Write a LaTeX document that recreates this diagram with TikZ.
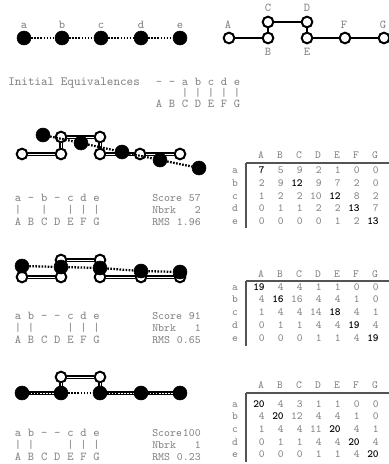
\documentclass[tikz,border=0pt]{standalone}
\definecolor{txt}{gray}{0.52}
\definecolor{rulec}{gray}{0.33}
\newcommand\mrow[5]{%
  \node[mat,anchor=base] (#1l) at (235,#2) {#5};
  \foreach \v [count=\ci] in {#4} {%
    \ifnum\ci=#3\relax
      \node[matb,anchor=base east] (#1\ci) at ({246+19*\ci},#2) {\v};
    \else
      \node[mat,anchor=base east] (#1\ci) at ({246+19*\ci},#2) {\v};
    \fi
  }}
\newcommand\mhead[3]{% prefix, baseline, line y
  \foreach \L [count=\ci] in {A,B,C,D,E,F,G}
    \node[mat,anchor=base] (#1\L) at ({242+19*\ci},#2) {\L};
  \coordinate (#1h0) at (246,#3);
  \coordinate (#1h1) at (392,#3);
  \draw[rulec,line width=1.5pt] (#1h0) -- (#1h1);}
\begin{document}
\begin{tikzpicture}[x=0.75pt,y=-0.75pt,
  fil/.style={circle,fill=black,draw=black,line width=0.4pt,inner sep=0pt,minimum size=10.5pt},
  opn/.style={circle,draw=black,fill=white,line width=1.5pt,inner sep=0pt,minimum size=8pt},
  dotline/.style={line width=1.7pt,dash pattern=on 1.2pt off 1.1pt},
  thickline/.style={line width=1.8pt},
  dbl/.style={double=white,line width=0.85pt,double distance=0.75pt},
  lab/.style={font=\fontsize{9}{11}\selectfont\ttfamily,text=txt,inner sep=0pt},
  scl/.style={font=\fontsize{8.5}{11}\selectfont\ttfamily,text=txt,inner sep=0pt},
  mat/.style={font=\fontsize{8.2}{10}\selectfont\ttfamily,text=txt,inner sep=0pt},
  matb/.style={font=\fontsize{8.2}{10}\selectfont\ttfamily\bfseries,text=black,inner sep=0pt}]
\useasboundingbox (0,0) rectangle (389,464);

% ---------- top left: filled chain
\foreach \n/\x in {a/24,b/62,c/101,d/141,e/180}{
  \node[fil] (t\n) at (\x,38) {};
  \node[lab,anchor=base] (tl\n) at (\x,28) {\n};
}
\draw[dotline] (ta) -- (tb) -- (tc) -- (td) -- (te);

% ---------- top right: open chain
\node[opn] (TA) at (229,38) {};
\node[opn] (TB) at (268,38) {};
\node[opn] (TC) at (268,22) {};
\node[opn] (TD) at (307,22) {};
\node[opn] (TE) at (307,38) {};
\node[opn] (TF) at (345,38) {};
\node[opn] (TG) at (384,38) {};
\draw[thickline] (TA) -- (TB) -- (TC) -- (TD) -- (TE) -- (TF) -- (TG);
\node[lab,anchor=base] (TLA) at (228,28) {A};
\node[lab,anchor=base] (TLB) at (268,55) {B};
\node[lab,anchor=base] (TLC) at (268,12) {C};
\node[lab,anchor=base] (TLD) at (307,12) {D};
\node[lab,anchor=base] (TLE) at (307,55) {E};
\node[lab,anchor=base] (TLF) at (344,28) {F};
\node[lab,anchor=base] (TLG) at (383,28) {G};

% ---------- initial equivalences
\node[lab,anchor=base west,font=\fontsize{9.4}{11}\selectfont\ttfamily] (init) at (8,85) {Initial Equivalences};
\foreach \c [count=\i from 0] in {-,-,a,b,c,d,e}
  \node[lab,anchor=base] (i1\i) at ({159+13*\i},85) {\c};
\foreach \i in {2,3,4,5,6}
  \node[lab,anchor=base] (i2\i) at ({159+13*\i},96) {|};
\foreach \c [count=\i from 0] in {A,B,C,D,E,F,G}
  \node[lab,anchor=base] (i3\i) at ({159+13*\i},107) {\c};

% ---------- panel 1
\node[opn] (pA) at (22,154) {};
\node[opn] (pB) at (61,154) {};
\node[opn] (pC) at (61,137) {};
\node[opn] (pD) at (100,137) {};
\node[opn] (pE) at (100,154) {};
\node[opn] (pF) at (140,154) {};
\node[opn] (pG) at (180,154) {};
\draw[dbl] (pA) -- (pB) -- (pC) -- (pD) -- (pE) -- (pF) -- (pG);
\node[fil] (pa) at (43,135) {};
\node[fil] (pb) at (81,143) {};
\node[fil] (pc) at (122,152) {};
\node[fil] (pd) at (160,160) {};
\node[fil] (pe) at (199,168) {};
\draw[dotline] (pa) -- (pb) -- (pc) -- (pd) -- (pe);
\foreach \c [count=\i from 0] in {a,-,b,-,c,d,e}
  \node[lab,anchor=base] (q1t\i) at ({18+13.1*\i},201) {\c};
\foreach \i in {0,2,4,5,6}
  \node[lab,anchor=base] (q1m\i) at ({18+13.1*\i},213) {|};
\foreach \c [count=\i from 0] in {A,B,C,D,E,F,G}
  \node[lab,anchor=base] (q1b\i) at ({18+13.1*\i},225) {\c};
\node[scl,anchor=base west] (s1a) at (152,201) {Score};
\node[scl,anchor=base west] (s1b) at (152,213) {Nbrk};
\node[scl,anchor=base west] (s1c) at (152,225) {RMS};
\node[scl,anchor=base east] (v1a) at (201,201) {57};
\node[scl,anchor=base east] (v1b) at (201,213) {2};
\node[scl,anchor=base east] (v1c) at (201,225) {1.96};
\mhead{ma}{158.5}{163}
\coordinate (mav0) at (246,163);
\coordinate (mav1) at (246,228);
\draw[rulec,line width=1pt] (mav0) -- (mav1);
\mrow{maa}{173.5}{1}{7,5,9,2,1,0,0}{a}
\mrow{mab}{186.5}{3}{2,9,12,9,7,2,0}{b}
\mrow{mac}{199.5}{5}{1,2,2,10,12,8,2}{c}
\mrow{mad}{211.5}{6}{0,1,1,2,2,13,7}{d}
\mrow{mae}{224.5}{7}{0,0,0,0,1,2,13}{e}

% ---------- panel 2
\node[opn] (rA) at (22,277) {};
\node[opn] (rB) at (61,277) {};
\node[opn] (rC) at (61,260) {};
\node[opn] (rD) at (100,260) {};
\node[opn] (rE) at (100,277) {};
\node[opn] (rF) at (141,277) {};
\node[opn] (rG) at (180,277) {};
\draw[dbl] (rA) -- (rB) -- (rC) -- (rD) -- (rE) -- (rF) -- (rG);
\node[fil] (ra) at (22,266) {};
\node[fil] (rb) at (61,267) {};
\node[fil] (rc) at (100,268) {};
\node[fil] (rd) at (141,271) {};
\node[fil] (re) at (180,272) {};
\draw[dotline] (ra) -- (rb) -- (rc) -- (rd) -- (re);
\foreach \c [count=\i from 0] in {a,b,-,-,c,d,e}
  \node[lab,anchor=base] (q2t\i) at ({18+13.1*\i},319) {\c};
\foreach \i in {0,1,4,5,6}
  \node[lab,anchor=base] (q2m\i) at ({18+13.1*\i},331) {|};
\foreach \c [count=\i from 0] in {A,B,C,D,E,F,G}
  \node[lab,anchor=base] (q2b\i) at ({18+13.1*\i},343) {\c};
\node[scl,anchor=base west] (s2a) at (152,319) {Score};
\node[scl,anchor=base west] (s2b) at (152,331) {Nbrk};
\node[scl,anchor=base west] (s2c) at (152,343) {RMS};
\node[scl,anchor=base east] (v2a) at (201,319) {91};
\node[scl,anchor=base east] (v2b) at (201,331) {1};
\node[scl,anchor=base east] (v2c) at (201,343) {0.65};
\mhead{mb}{277.5}{281}
\coordinate (mbv0) at (246,281);
\coordinate (mbv1) at (246,346);
\draw[rulec,line width=1pt] (mbv0) -- (mbv1);
\mrow{mba}{290.5}{1}{19,4,4,1,1,0,0}{a}
\mrow{mbb}{302.5}{2}{4,16,16,4,4,1,0}{b}
\mrow{mbc}{315.5}{5}{1,4,4,14,18,4,1}{c}
\mrow{mbd}{328.5}{6}{0,1,1,4,4,19,4}{d}
\mrow{mbe}{341.5}{7}{0,0,0,1,1,4,19}{e}

% ---------- panel 3
\node[opn] (uA) at (22,393) {};
\node[opn] (uB) at (61,393) {};
\node[opn] (uC) at (61,377) {};
\node[opn] (uD) at (100,377) {};
\node[opn] (uE) at (100,393) {};
\node[opn] (uF) at (141,393) {};
\node[opn] (uG) at (180,393) {};
\draw[dbl] (uA) -- (uB) -- (uC) -- (uD) -- (uE) -- (uF) -- (uG);
\node[fil] (ua) at (22,393) {};
\node[fil] (ub) at (61,393) {};
\node[fil] (uc) at (100,393) {};
\node[fil] (ud) at (141,393) {};
\node[fil] (ue) at (180,393) {};
\draw[dotline] (ua) -- (ub) -- (uc) -- (ud) -- (ue);
\foreach \c [count=\i from 0] in {a,b,-,-,c,d,e}
  \node[lab,anchor=base] (q3t\i) at ({18+13.1*\i},436) {\c};
\foreach \i in {0,1,4,5,6}
  \node[lab,anchor=base] (q3m\i) at ({18+13.1*\i},448) {|};
\foreach \c [count=\i from 0] in {A,B,C,D,E,F,G}
  \node[lab,anchor=base] (q3b\i) at ({18+13.1*\i},460) {\c};
\node[scl,anchor=base west] (s3a) at (152,436) {Score};
\node[scl,anchor=base west] (s3b) at (152,448) {Nbrk};
\node[scl,anchor=base west] (s3c) at (152,460) {RMS};
\node[scl,anchor=base east] (v3a) at (201,436) {100};
\node[scl,anchor=base east] (v3b) at (201,448) {1};
\node[scl,anchor=base east] (v3c) at (201,460) {0.23};
\mhead{mc}{388.5}{393}
\coordinate (mcv0) at (246,393);
\coordinate (mcv1) at (246,462);
\draw[rulec,line width=1pt] (mcv0) -- (mcv1);
\mrow{mca}{407.5}{1}{20,4,3,1,1,0,0}{a}
\mrow{mcb}{419.5}{2}{4,20,12,4,4,1,0}{b}
\mrow{mcc}{432}{5}{1,4,4,11,20,4,1}{c}
\mrow{mcd}{445}{6}{0,1,1,4,4,20,4}{d}
\mrow{mce}{457.5}{7}{0,0,0,1,1,4,20}{e}
\end{tikzpicture}
\end{document}
